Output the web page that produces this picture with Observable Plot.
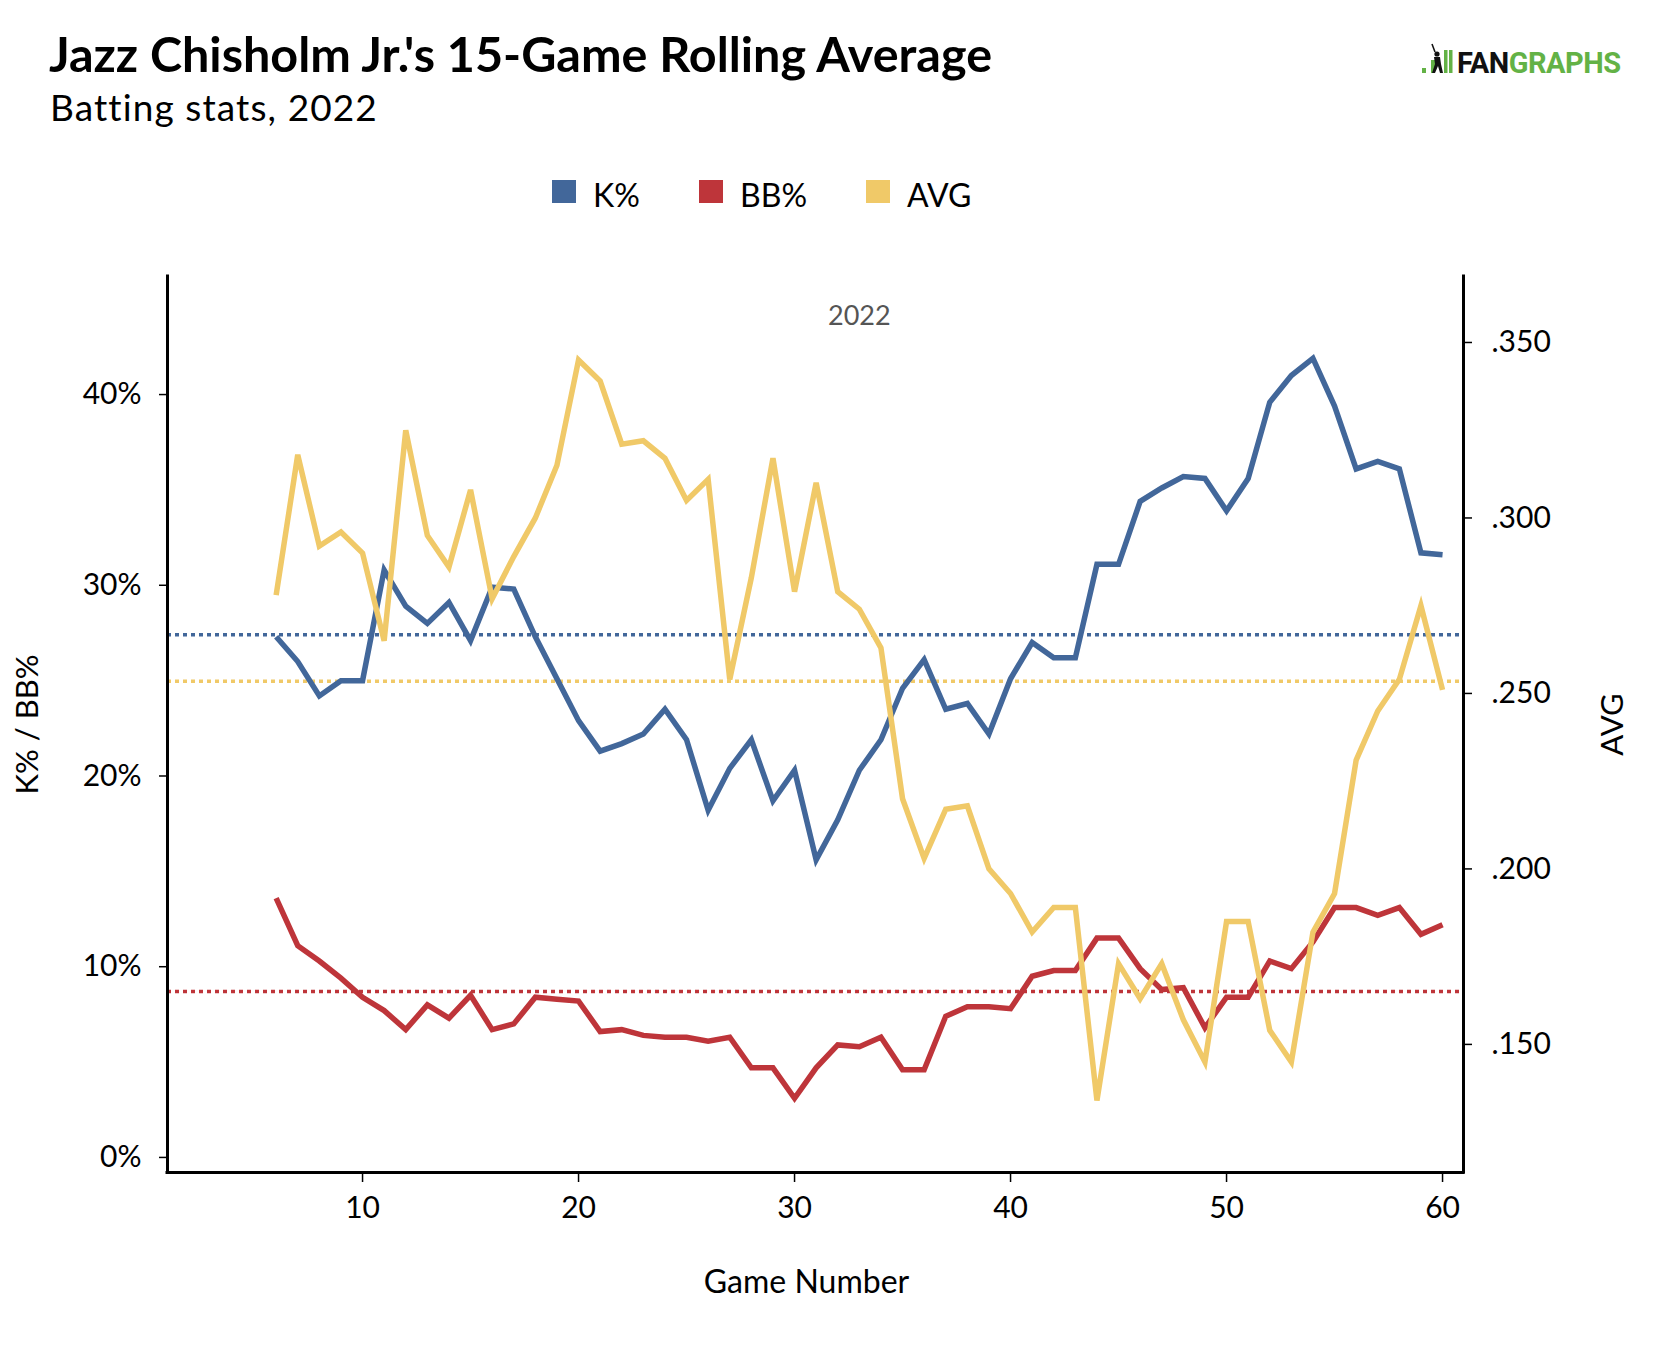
<!DOCTYPE html>
<html>
<head>
<meta charset="utf-8">
<script src="https://cdn.jsdelivr.net/npm/d3@7"></script>
<script src="https://cdn.jsdelivr.net/npm/@observablehq/plot@0.6"></script>
<style>
  html, body { margin: 0; padding: 0; background: #fff; }
  body { width: 1660px; height: 1346px; position: relative; overflow: hidden; font-family: Lato, "Open Sans", sans-serif; color: #000; }
  #title { position: absolute; left: 49px; top: 24px; font-size: 48.5px; font-weight: 700; white-space: nowrap; }
  #subtitle { position: absolute; left: 50px; top: 84px; font-size: 37px; letter-spacing: 1.1px; font-weight: 400; white-space: nowrap; }
  #logo { position: absolute; left: 1420px; top: 40px; }
  .item { position: absolute; top: 175px; height: 40px; white-space: nowrap; font-size: 32px; }
  .sw { position: absolute; left: 0; top: 5px; width: 24px; height: 23px; }
  .lab { position: absolute; left: 41px; top: 0; }
  #chart { position: absolute; left: 0; top: 230px; }
</style>
</head>
<body>
<div id="title">Jazz Chisholm Jr.'s 15-Game Rolling Average</div>
<div id="subtitle">Batting stats, 2022</div>
<svg id="logo" width="230" height="42" viewBox="0 0 230 42">
  <rect x="2" y="28" width="4" height="5" fill="#63b246"/>
  <rect x="11" y="20" width="4" height="13" fill="#63b246"/>
  <rect x="24" y="10" width="3.5" height="23" fill="#63b246"/>
  <rect x="29" y="10" width="3.5" height="23" fill="#63b246"/>
  <g fill="#111" stroke="#111">
    <circle cx="17" cy="14" r="2.6" stroke="none"/>
    <line x1="15" y1="12" x2="12" y2="4" stroke-width="1.6"/>
    <path d="M14 17 L20 17 L21 24 L23 33 L20 33 L18 26 L15 33 L12 33 L15 24 Z" stroke="none"/>
  </g>
  <text x="37" y="33" font-family="Roboto, 'Liberation Sans', sans-serif" font-weight="700" font-size="29" letter-spacing="-0.5"><tspan fill="#111">FAN</tspan><tspan fill="#63b246">GRAPHS</tspan></text>
</svg>
<div id="legend"></div>
<div id="chart"></div>
<script>
// ---- data ----
const games = [6,7,8,9,10,11,12,13,14,15,16,17,18,19,20,21,22,23,24,25,26,27,28,29,30,31,32,33,34,35,36,37,38,39,40,41,42,43,44,45,46,47,48,49,50,51,52,53,54,55,56,57,58,59,60];
const kPct = [27.3,26.0,24.2,25.0,25.0,30.8,28.9,28.0,29.1,27.1,29.9,29.8,27.3,25.1,22.9,21.3,21.7,22.2,23.5,21.9,18.2,20.4,21.9,18.7,20.3,15.6,17.7,20.3,21.9,24.6,26.1,23.5,23.8,22.2,25.1,27.0,26.2,26.2,31.1,31.1,34.4,35.1,35.7,35.6,33.9,35.6,39.6,41.0,41.9,39.4,36.1,36.5,36.1,31.7,31.6];
const bbPct = [13.6,11.1,10.3,9.4,8.4,7.7,6.7,8.0,7.3,8.5,6.7,7.0,8.4,8.3,8.2,6.6,6.7,6.4,6.3,6.3,6.1,6.3,4.7,4.7,3.1,4.7,5.9,5.8,6.3,4.6,4.6,7.4,7.9,7.9,7.8,9.5,9.8,9.8,11.5,11.5,9.9,8.8,8.9,6.8,8.4,8.4,10.3,9.9,11.3,13.1,13.1,12.7,13.1,11.7,12.2];
const avg = [.278,.318,.292,.296,.290,.265,.325,.295,.286,.308,.277,.289,.300,.315,.345,.339,.321,.322,.317,.305,.311,.254,.283,.317,.279,.310,.279,.274,.263,.220,.203,.217,.218,.200,.193,.182,.189,.189,.134,.173,.163,.173,.157,.145,.185,.185,.154,.145,.182,.193,.231,.245,.254,.275,.251];
const seasonK = 27.4;
const seasonBB = 8.7;
const seasonAVG = .2535;
const seriesNames = ["K%", "BB%", "AVG"];
const seriesColors = ["#42679a", "#be353a", "#f0c968"];
const xTicks = [10, 20, 30, 40, 50, 60];
const pctTicks = [0, 10, 20, 30, 40];
const avgTicks = [.150, .200, .250, .300, .350];
const panelLabel = "2022";

// ---- scales ----
const xDomain = [0.97, 60.97];
const yDomain = [-0.79, 46.19];
const avgDomain = [0.1135, 0.3688];
const avgToPct = d3.scaleLinear().domain(avgDomain).range(yDomain);
const fmtAvg = v => d3.format(".3f")(avgToPct.invert(v)).replace(/^0/, "");

const rows = games.map((g, i) => ({game: g, k: kPct[i], bb: bbPct[i], avg: avg[i]}));
const [blue, red, yellow] = seriesColors;

// ---- legend ----
const legendLeft = [552, 699, 866];
const legend = document.getElementById("legend");
seriesNames.forEach((name, i) => {
  const it = document.createElement("div");
  it.className = "item";
  it.style.left = legendLeft[i] + "px";
  it.innerHTML = `<span class="sw" style="background:${seriesColors[i]}"></span><span class="lab">${name}</span>`;
  legend.appendChild(it);
});

const lineOpts = {strokeWidth: 5.5, strokeLinejoin: "miter", strokeMiterlimit: 4, strokeLinecap: "butt"};
const dotOpts = {strokeWidth: 3.5, strokeDasharray: "4 4"};
const mid = (games[0] + games[games.length - 1]) / 2;

const chart = Plot.plot({
  width: 1660,
  height: 1116,
  marginTop: 46,
  marginBottom: 174,
  marginLeft: 167,
  marginRight: 197,
  style: {fontFamily: "Lato, sans-serif", color: "#000", background: "#fff", overflow: "visible"},
  x: {domain: xDomain, label: null},
  y: {domain: yDomain, label: null},
  marks: [
    Plot.ruleY([seasonK], {stroke: blue, ...dotOpts}),
    Plot.ruleY([seasonBB], {stroke: red, ...dotOpts}),
    Plot.ruleY([avgToPct(seasonAVG)], {stroke: yellow, ...dotOpts}),
    Plot.line(rows, {x: "game", y: "k", stroke: blue, ...lineOpts}),
    Plot.line(rows, {x: "game", y: "bb", stroke: red, ...lineOpts}),
    Plot.line(rows, {x: "game", y: d => avgToPct(d.avg), stroke: yellow, ...lineOpts}),
    Plot.ruleX([xDomain[0]], {stroke: "#000", strokeWidth: 3, strokeLinecap: "square"}),
    Plot.ruleX([xDomain[1]], {stroke: "#000", strokeWidth: 3, strokeLinecap: "square"}),
    Plot.ruleY([yDomain[0]], {stroke: "#000", strokeWidth: 3, strokeLinecap: "square"}),
    Plot.axisX(xTicks, {anchor: "bottom", tickSize: 10, tickPadding: 14, fontSize: 30, strokeWidth: 1.5, label: null}),
    Plot.axisY(pctTicks, {anchor: "left", tickSize: 8, tickPadding: 18, fontSize: 30, strokeWidth: 1.5, tickFormat: d => d + "%", label: null}),
    Plot.axisY(avgTicks.map(a => avgToPct(a)), {anchor: "right", tickSize: 8, tickPadding: 20, fontSize: 30, strokeWidth: 1.5, tickFormat: fmtAvg, label: null}),
    Plot.text([{g: mid, t: panelLabel}], {x: "g", text: "t", frameAnchor: "top", lineAnchor: "middle", textAnchor: "middle", dy: 40, fontSize: 27, fill: "#555"}),
    Plot.text(["K% / BB%"], {frameAnchor: "left", textAnchor: "middle", lineAnchor: "middle", rotate: -90, dx: -139, fontSize: 31, fill: "#000"}),
    Plot.text(["AVG"], {frameAnchor: "right", textAnchor: "middle", lineAnchor: "middle", rotate: -90, dx: 150, fontSize: 31, fill: "#000"}),
    Plot.text(["Game Number"], {frameAnchor: "bottom", textAnchor: "middle", lineAnchor: "middle", dy: 110, dx: -9, fontSize: 32, fill: "#000"})
  ]
});
document.getElementById("chart").appendChild(chart);
</script>
</body>
</html>
